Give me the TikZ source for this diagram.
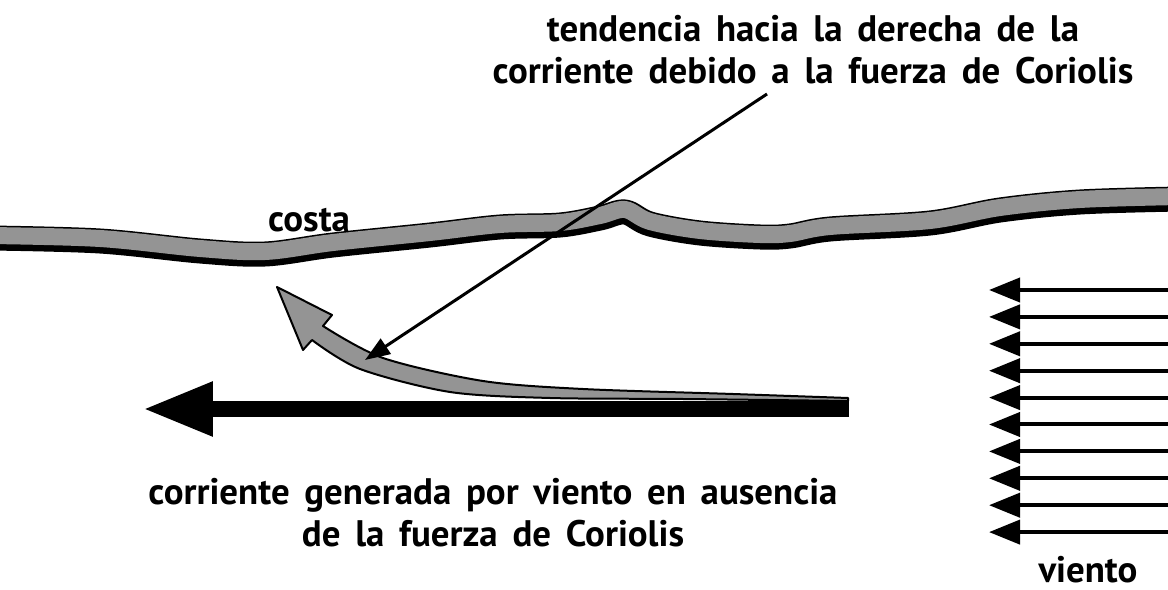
\documentclass[tikz,border=0pt]{standalone}
\usepackage{fontspec}
\setmainfont{PT Sans}
\usepackage{tikz}
\usetikzlibrary{arrows.meta}
\definecolor{coastgray}{gray}{0.58}
\newcommand{\labelfont}{\fontsize{21}{24}\selectfont\bfseries\spaceskip=0.4em\relax}

\begin{document}
\begin{tikzpicture}[
  x=0.02cm,y=-0.02cm,
  every node/.style={font=\labelfont,align=center,inner sep=0pt},
  coastedge/.style={line width=0.5cm,black,line join=round},
  coastfill/.style={line width=0.34cm,coastgray,line join=round},
  flow/.style={line width=0.34cm,-{Triangle[length=1.42cm,width=1cm]}},
  drift/.style={draw=black,line width=0.04cm,fill=coastgray,line join=round},
  lead/.style={line width=0.06cm,-{Triangle[length=0.5cm,width=0.36cm]}},
  wind/.style={line width=0.08cm,-{Triangle[length=0.62cm,width=0.48cm]}}
]
\useasboundingbox (0,0) rectangle (1168,590);
\def\coastline{plot[smooth,tension=0.55] coordinates {(-10,238) (100,241) (200,251) (265,254) (333,245) (430,235) (500,227) (560,225) (600,218) (625,212) (650,224) (700,233) (760,237) (790,236) (830,229) (930,223) (1000,210) (1080,202) (1180,199)}}
\draw[coastedge] \coastline;
\draw[coastfill,shift={(0,-2.5)}] \coastline;
\node[anchor=base] (coast) at (309,232) {costa};

\coordinate (flowstart) at (849,409);
\coordinate (flowend) at (142,409);
\draw[flow] (flowstart) -- (flowend);

\draw[drift] (277,287) -- (332,315) -- (323,326)
  -- plot[smooth] coordinates {(323,326) (383,358) (483,381) (583,389) (733,394) (848,398)}
  -- (848,401)
  -- plot[smooth] coordinates {(848,401) (683,399) (550,398) (450,392) (360,369) (312,340)}
  -- (303,350) -- cycle;

\node (tendency) at (813,50) {tendencia hacia la derecha de la\\corriente debido a la fuerza de Coriolis};
\coordinate (leadstart) at (767,94);
\coordinate (leadend) at (365,360);
\draw[lead] (leadstart) -- (leadend);

\foreach \i in {0,...,9}{
  \coordinate (w\i) at (1180,{290+26.9*\i});
  \coordinate (t\i) at (989,{290+26.9*\i});
  \draw[wind] (w\i) -- (t\i);
}
\node[anchor=base] (windlabel) at (1088,582) {viento};

\node (nocoriolis) at (493,513) {corriente generada por viento en ausencia\\de la fuerza de Coriolis};
\end{tikzpicture}
\end{document}
